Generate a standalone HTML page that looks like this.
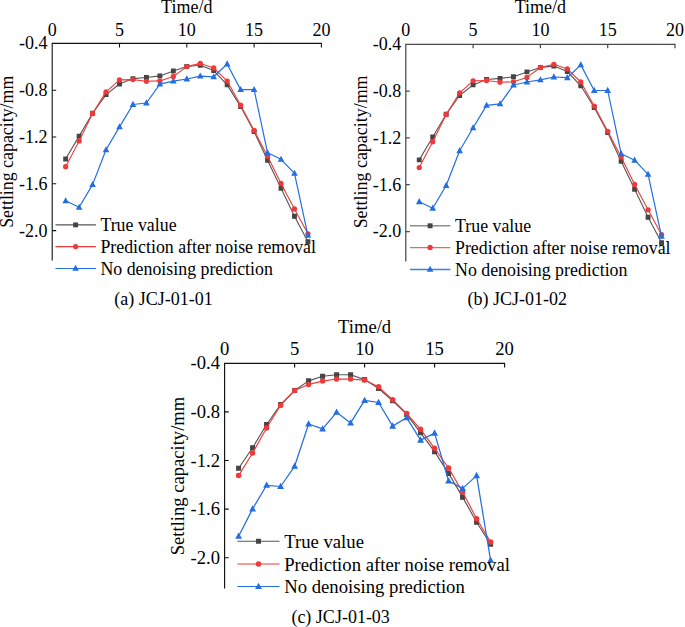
<!DOCTYPE html>
<html><head><meta charset="utf-8"><style>
html,body{margin:0;padding:0;background:#fff;}
svg{display:block;}
text{font-family:"Liberation Serif", serif;fill:#000;}
</style></head><body>
<svg width="685" height="627" viewBox="0 0 685 627">
<rect width="685" height="627" fill="#fff"/>
<g font-size="18">
<path d="M52.2 260.6V43.4H321.4v4" fill="none" stroke="#111" stroke-width="1.1"/>
<path d="M119.5 43.4v4M186.8 43.4v4M254.1 43.4v4M52.2 90.2h4M52.2 137h4M52.2 183.8h4M52.2 230.6h4" fill="none" stroke="#111" stroke-width="1.1"/>
<text x="52.2" y="35.9" text-anchor="middle">0</text>
<text x="119.5" y="35.9" text-anchor="middle">5</text>
<text x="186.8" y="35.9" text-anchor="middle">10</text>
<text x="254.1" y="35.9" text-anchor="middle">15</text>
<text x="321.4" y="35.9" text-anchor="middle">20</text>
<text x="47.6" y="49.35" text-anchor="end">-0.4</text>
<text x="47.6" y="96.15" text-anchor="end">-0.8</text>
<text x="47.6" y="142.95" text-anchor="end">-1.2</text>
<text x="47.6" y="189.75" text-anchor="end">-1.6</text>
<text x="47.6" y="236.55" text-anchor="end">-2.0</text>
<text x="186.8" y="13.4" text-anchor="middle">Time/d</text>
<text transform="translate(12.9 151.8) rotate(-90)" text-anchor="middle" font-size="17.85">Settling capacity/mm</text>
<polyline points="65.66,159 79.12,136.1 92.58,113.3 106.04,94.6 119.5,84 132.96,78.6 146.42,77.5 159.88,75.9 173.34,71 186.8,66.5 200.26,65.2 213.72,70.6 227.18,84.9 240.64,106.6 254.1,131.6 267.56,160.3 281.02,188.3 294.48,216.3 307.94,241.7" fill="none" stroke="#555555" stroke-width="1.1" stroke-linejoin="round"/>
<path d="M63.21 156.55h4.9v4.9h-4.9zM76.67 133.65h4.9v4.9h-4.9zM90.13 110.85h4.9v4.9h-4.9zM103.59 92.15h4.9v4.9h-4.9zM117.05 81.55h4.9v4.9h-4.9zM130.51 76.15h4.9v4.9h-4.9zM143.97 75.05h4.9v4.9h-4.9zM157.43 73.45h4.9v4.9h-4.9zM170.89 68.55h4.9v4.9h-4.9zM184.35 64.05h4.9v4.9h-4.9zM197.81 62.75h4.9v4.9h-4.9zM211.27 68.15h4.9v4.9h-4.9zM224.73 82.45h4.9v4.9h-4.9zM238.19 104.15h4.9v4.9h-4.9zM251.65 129.15h4.9v4.9h-4.9zM265.11 157.85h4.9v4.9h-4.9zM278.57 185.85h4.9v4.9h-4.9zM292.03 213.85h4.9v4.9h-4.9zM305.49 239.25h4.9v4.9h-4.9z" fill="#454545"/>
<polyline points="65.66,166.7 79.12,140.9 92.58,113.6 106.04,91.9 119.5,79.9 132.96,79.6 146.42,81.3 159.88,80.9 173.34,76.5 186.8,66.6 200.26,63.4 213.72,68 227.18,81.1 240.64,105.2 254.1,130.4 267.56,156.2 281.02,183.5 294.48,208.9 307.94,233.8" fill="none" stroke="#EE3A3A" stroke-width="1.1" stroke-linejoin="round"/>
<path d="M63.01 166.7a2.65 2.65 0 1 0 5.3 0a2.65 2.65 0 1 0 -5.3 0zM76.47 140.9a2.65 2.65 0 1 0 5.3 0a2.65 2.65 0 1 0 -5.3 0zM89.93 113.6a2.65 2.65 0 1 0 5.3 0a2.65 2.65 0 1 0 -5.3 0zM103.39 91.9a2.65 2.65 0 1 0 5.3 0a2.65 2.65 0 1 0 -5.3 0zM116.85 79.9a2.65 2.65 0 1 0 5.3 0a2.65 2.65 0 1 0 -5.3 0zM130.31 79.6a2.65 2.65 0 1 0 5.3 0a2.65 2.65 0 1 0 -5.3 0zM143.77 81.3a2.65 2.65 0 1 0 5.3 0a2.65 2.65 0 1 0 -5.3 0zM157.23 80.9a2.65 2.65 0 1 0 5.3 0a2.65 2.65 0 1 0 -5.3 0zM170.69 76.5a2.65 2.65 0 1 0 5.3 0a2.65 2.65 0 1 0 -5.3 0zM184.15 66.6a2.65 2.65 0 1 0 5.3 0a2.65 2.65 0 1 0 -5.3 0zM197.61 63.4a2.65 2.65 0 1 0 5.3 0a2.65 2.65 0 1 0 -5.3 0zM211.07 68a2.65 2.65 0 1 0 5.3 0a2.65 2.65 0 1 0 -5.3 0zM224.53 81.1a2.65 2.65 0 1 0 5.3 0a2.65 2.65 0 1 0 -5.3 0zM237.99 105.2a2.65 2.65 0 1 0 5.3 0a2.65 2.65 0 1 0 -5.3 0zM251.45 130.4a2.65 2.65 0 1 0 5.3 0a2.65 2.65 0 1 0 -5.3 0zM264.91 156.2a2.65 2.65 0 1 0 5.3 0a2.65 2.65 0 1 0 -5.3 0zM278.37 183.5a2.65 2.65 0 1 0 5.3 0a2.65 2.65 0 1 0 -5.3 0zM291.83 208.9a2.65 2.65 0 1 0 5.3 0a2.65 2.65 0 1 0 -5.3 0zM305.29 233.8a2.65 2.65 0 1 0 5.3 0a2.65 2.65 0 1 0 -5.3 0z" fill="#EE3A3A"/>
<polyline points="65.66,200.8 79.12,207.3 92.58,184.6 106.04,149.8 119.5,126.9 132.96,104.5 146.42,103 159.88,84.1 173.34,81.1 186.8,79 200.26,76.1 213.72,76.8 227.18,64 240.64,89.6 254.1,89.6 267.56,152.8 281.02,159.3 294.48,173.4 307.94,235.4" fill="none" stroke="#236EE0" stroke-width="1.2" stroke-linejoin="round"/>
<path d="M65.66 197.16L68.96 203.24H62.36zM79.12 203.66L82.42 209.74H75.82zM92.58 180.96L95.88 187.04H89.28zM106.04 146.16L109.34 152.24H102.74zM119.5 123.26L122.8 129.34H116.2zM132.96 100.86L136.26 106.94H129.66zM146.42 99.36L149.72 105.44H143.12zM159.88 80.46L163.18 86.54H156.58zM173.34 77.46L176.64 83.54H170.04zM186.8 75.36L190.1 81.44H183.5zM200.26 72.46L203.56 78.54H196.96zM213.72 73.16L217.02 79.24H210.42zM227.18 60.36L230.48 66.44H223.88zM240.64 85.96L243.94 92.04H237.34zM254.1 85.96L257.4 92.04H250.8zM267.56 149.16L270.86 155.24H264.26zM281.02 155.66L284.32 161.74H277.72zM294.48 169.76L297.78 175.84H291.18zM307.94 231.76L311.24 237.84H304.64z" fill="#236EE0"/>
<path d="M55.5 224.9H95.9" stroke="#555555" stroke-width="1.1"/>
<path d="M73.15 222.45h4.9v4.9h-4.9z" fill="#454545"/>
<text x="100.4" y="230.8" font-size="17.85">True value</text>
<path d="M55.5 246.6H95.9" stroke="#EE3A3A" stroke-width="1.1"/>
<path d="M72.95 246.6a2.65 2.65 0 1 0 5.3 0a2.65 2.65 0 1 0 -5.3 0z" fill="#EE3A3A"/>
<text x="100.4" y="253" font-size="17.85">Prediction after noise removal</text>
<path d="M55.5 268.5H95.9" stroke="#236EE0" stroke-width="1.2"/>
<path d="M75.6 264.76L78.9 270.84H72.3z" fill="#236EE0"/>
<text x="100.4" y="274.6" font-size="17.85">No denoising prediction</text>
</g>
<g font-size="18">
<path d="M405.8 261.5V44.3H675v4" fill="none" stroke="#4a4a4a" stroke-width="1.25"/>
<path d="M473.1 44.3v4M540.4 44.3v4M607.7 44.3v4M405.8 91.1h4M405.8 137.9h4M405.8 184.7h4M405.8 231.5h4" fill="none" stroke="#4a4a4a" stroke-width="1.25"/>
<text x="405.8" y="36" text-anchor="middle">0</text>
<text x="473.1" y="36" text-anchor="middle">5</text>
<text x="540.4" y="36" text-anchor="middle">10</text>
<text x="607.7" y="36" text-anchor="middle">15</text>
<text x="675" y="36" text-anchor="middle">20</text>
<text x="401.2" y="50.25" text-anchor="end">-0.4</text>
<text x="401.2" y="97.05" text-anchor="end">-0.8</text>
<text x="401.2" y="143.85" text-anchor="end">-1.2</text>
<text x="401.2" y="190.65" text-anchor="end">-1.6</text>
<text x="401.2" y="237.45" text-anchor="end">-2.0</text>
<text x="540.4" y="12.9" text-anchor="middle">Time/d</text>
<text transform="translate(366.5 151.9) rotate(-90)" text-anchor="middle" font-size="17.95">Settling capacity/mm</text>
<polyline points="419.26,159.9 432.72,137 446.18,114.2 459.64,95.5 473.1,84.9 486.56,79.5 500.02,78.4 513.48,76.8 526.94,71.9 540.4,67.4 553.86,66.1 567.32,71.5 580.78,85.8 594.24,107.5 607.7,132.5 621.16,161.2 634.62,189.2 648.08,217.2 661.54,242.6" fill="none" stroke="#555555" stroke-width="1.1" stroke-linejoin="round"/>
<path d="M416.81 157.45h4.9v4.9h-4.9zM430.27 134.55h4.9v4.9h-4.9zM443.73 111.75h4.9v4.9h-4.9zM457.19 93.05h4.9v4.9h-4.9zM470.65 82.45h4.9v4.9h-4.9zM484.11 77.05h4.9v4.9h-4.9zM497.57 75.95h4.9v4.9h-4.9zM511.03 74.35h4.9v4.9h-4.9zM524.49 69.45h4.9v4.9h-4.9zM537.95 64.95h4.9v4.9h-4.9zM551.41 63.65h4.9v4.9h-4.9zM564.87 69.05h4.9v4.9h-4.9zM578.33 83.35h4.9v4.9h-4.9zM591.79 105.05h4.9v4.9h-4.9zM605.25 130.05h4.9v4.9h-4.9zM618.71 158.75h4.9v4.9h-4.9zM632.17 186.75h4.9v4.9h-4.9zM645.63 214.75h4.9v4.9h-4.9zM659.09 240.15h4.9v4.9h-4.9z" fill="#454545"/>
<polyline points="419.26,167.6 432.72,141.8 446.18,114.5 459.64,92.8 473.1,80.8 486.56,80.5 500.02,82.2 513.48,81.8 526.94,77.4 540.4,67.5 553.86,64.3 567.32,68.9 580.78,82 594.24,106.1 607.7,131.3 621.16,157.1 634.62,184.4 648.08,209.8 661.54,234.7" fill="none" stroke="#EE3A3A" stroke-width="1.1" stroke-linejoin="round"/>
<path d="M416.61 167.6a2.65 2.65 0 1 0 5.3 0a2.65 2.65 0 1 0 -5.3 0zM430.07 141.8a2.65 2.65 0 1 0 5.3 0a2.65 2.65 0 1 0 -5.3 0zM443.53 114.5a2.65 2.65 0 1 0 5.3 0a2.65 2.65 0 1 0 -5.3 0zM456.99 92.8a2.65 2.65 0 1 0 5.3 0a2.65 2.65 0 1 0 -5.3 0zM470.45 80.8a2.65 2.65 0 1 0 5.3 0a2.65 2.65 0 1 0 -5.3 0zM483.91 80.5a2.65 2.65 0 1 0 5.3 0a2.65 2.65 0 1 0 -5.3 0zM497.37 82.2a2.65 2.65 0 1 0 5.3 0a2.65 2.65 0 1 0 -5.3 0zM510.83 81.8a2.65 2.65 0 1 0 5.3 0a2.65 2.65 0 1 0 -5.3 0zM524.29 77.4a2.65 2.65 0 1 0 5.3 0a2.65 2.65 0 1 0 -5.3 0zM537.75 67.5a2.65 2.65 0 1 0 5.3 0a2.65 2.65 0 1 0 -5.3 0zM551.21 64.3a2.65 2.65 0 1 0 5.3 0a2.65 2.65 0 1 0 -5.3 0zM564.67 68.9a2.65 2.65 0 1 0 5.3 0a2.65 2.65 0 1 0 -5.3 0zM578.13 82a2.65 2.65 0 1 0 5.3 0a2.65 2.65 0 1 0 -5.3 0zM591.59 106.1a2.65 2.65 0 1 0 5.3 0a2.65 2.65 0 1 0 -5.3 0zM605.05 131.3a2.65 2.65 0 1 0 5.3 0a2.65 2.65 0 1 0 -5.3 0zM618.51 157.1a2.65 2.65 0 1 0 5.3 0a2.65 2.65 0 1 0 -5.3 0zM631.97 184.4a2.65 2.65 0 1 0 5.3 0a2.65 2.65 0 1 0 -5.3 0zM645.43 209.8a2.65 2.65 0 1 0 5.3 0a2.65 2.65 0 1 0 -5.3 0zM658.89 234.7a2.65 2.65 0 1 0 5.3 0a2.65 2.65 0 1 0 -5.3 0z" fill="#EE3A3A"/>
<polyline points="419.26,201.7 432.72,208.2 446.18,185.5 459.64,150.7 473.1,127.8 486.56,105.4 500.02,103.9 513.48,85 526.94,82 540.4,79.9 553.86,77 567.32,77.7 580.78,64.9 594.24,90.5 607.7,90.5 621.16,153.7 634.62,160.2 648.08,174.3 661.54,236.3" fill="none" stroke="#236EE0" stroke-width="1.2" stroke-linejoin="round"/>
<path d="M419.26 198.06L422.56 204.14H415.96zM432.72 204.56L436.02 210.64H429.42zM446.18 181.86L449.48 187.94H442.88zM459.64 147.06L462.94 153.14H456.34zM473.1 124.16L476.4 130.24H469.8zM486.56 101.76L489.86 107.84H483.26zM500.02 100.26L503.32 106.34H496.72zM513.48 81.36L516.78 87.44H510.18zM526.94 78.36L530.24 84.44H523.64zM540.4 76.26L543.7 82.34H537.1zM553.86 73.36L557.16 79.44H550.56zM567.32 74.06L570.62 80.14H564.02zM580.78 61.26L584.08 67.34H577.48zM594.24 86.86L597.54 92.94H590.94zM607.7 86.86L611 92.94H604.4zM621.16 150.06L624.46 156.14H617.86zM634.62 156.56L637.92 162.64H631.32zM648.08 170.66L651.38 176.74H644.78zM661.54 232.66L664.84 238.74H658.24z" fill="#236EE0"/>
<path d="M410 225.8H450.4" stroke="#8e8e8e" stroke-width="1.4"/>
<path d="M427.65 223.35h4.9v4.9h-4.9z" fill="#454545"/>
<text x="455" y="232" font-size="17.85">True value</text>
<path d="M410 247.5H450.4" stroke="#F06464" stroke-width="1.25"/>
<path d="M427.45 247.5a2.65 2.65 0 1 0 5.3 0a2.65 2.65 0 1 0 -5.3 0z" fill="#EE3A3A"/>
<text x="455" y="254.2" font-size="17.85">Prediction after noise removal</text>
<path d="M410 269.5H450.4" stroke="#3A82E8" stroke-width="1.3"/>
<path d="M430.1 265.76L433.4 271.84H426.8z" fill="#236EE0"/>
<text x="455" y="275.8" font-size="17.85">No denoising prediction</text>
</g>
<g font-size="18.6">
<path d="M224.6 588.6V363.3H504.6v4.14" fill="none" stroke="#111" stroke-width="1.15"/>
<path d="M294.6 363.3v4.14M364.6 363.3v4.14M434.6 363.3v4.14M224.6 411.9h4.14M224.6 460.5h4.14M224.6 509.1h4.14M224.6 557.7h4.14" fill="none" stroke="#111" stroke-width="1.15"/>
<text x="224.6" y="354.7" text-anchor="middle">0</text>
<text x="294.6" y="354.7" text-anchor="middle">5</text>
<text x="364.6" y="354.7" text-anchor="middle">10</text>
<text x="434.6" y="354.7" text-anchor="middle">15</text>
<text x="504.6" y="354.7" text-anchor="middle">20</text>
<text x="220" y="369.45" text-anchor="end">-0.4</text>
<text x="220" y="418.05" text-anchor="end">-0.8</text>
<text x="220" y="466.65" text-anchor="end">-1.2</text>
<text x="220" y="515.25" text-anchor="end">-1.6</text>
<text x="220" y="563.85" text-anchor="end">-2.0</text>
<text x="364.6" y="333" text-anchor="middle">Time/d</text>
<text transform="translate(184.2 476) rotate(-90)" text-anchor="middle" font-size="18.6">Settling capacity/mm</text>
<polyline points="238.6,468.3 252.6,447.8 266.6,424.5 280.6,404.6 294.6,390.5 308.6,380.9 322.6,376.3 336.6,374.8 350.6,374.8 364.6,379.6 378.6,388.5 392.6,400.8 406.6,414.2 420.6,432.8 434.6,451.6 448.6,473.4 462.6,497.1 476.6,522.2 490.6,544.2" fill="none" stroke="#555555" stroke-width="1.14" stroke-linejoin="round"/>
<path d="M236.06 465.76h5.07v5.07h-5.07zM250.06 445.26h5.07v5.07h-5.07zM264.06 421.96h5.07v5.07h-5.07zM278.06 402.06h5.07v5.07h-5.07zM292.06 387.96h5.07v5.07h-5.07zM306.06 378.36h5.07v5.07h-5.07zM320.06 373.76h5.07v5.07h-5.07zM334.06 372.26h5.07v5.07h-5.07zM348.06 372.26h5.07v5.07h-5.07zM362.06 377.06h5.07v5.07h-5.07zM376.06 385.96h5.07v5.07h-5.07zM390.06 398.26h5.07v5.07h-5.07zM404.06 411.66h5.07v5.07h-5.07zM418.06 430.26h5.07v5.07h-5.07zM432.06 449.06h5.07v5.07h-5.07zM446.06 470.86h5.07v5.07h-5.07zM460.06 494.56h5.07v5.07h-5.07zM474.06 519.66h5.07v5.07h-5.07zM488.06 541.66h5.07v5.07h-5.07z" fill="#454545"/>
<polyline points="238.6,475.6 252.6,453 266.6,428 280.6,405.3 294.6,390.4 308.6,384.4 322.6,381.1 336.6,379 350.6,379.1 364.6,380.1 378.6,386.8 392.6,399.7 406.6,413.5 420.6,429.3 434.6,448.3 448.6,468 462.6,492.1 476.6,518.7 490.6,542.1" fill="none" stroke="#EE3A3A" stroke-width="1.14" stroke-linejoin="round"/>
<path d="M235.86 475.6a2.74 2.74 0 1 0 5.49 0a2.74 2.74 0 1 0 -5.49 0zM249.86 453a2.74 2.74 0 1 0 5.49 0a2.74 2.74 0 1 0 -5.49 0zM263.86 428a2.74 2.74 0 1 0 5.49 0a2.74 2.74 0 1 0 -5.49 0zM277.86 405.3a2.74 2.74 0 1 0 5.49 0a2.74 2.74 0 1 0 -5.49 0zM291.86 390.4a2.74 2.74 0 1 0 5.49 0a2.74 2.74 0 1 0 -5.49 0zM305.86 384.4a2.74 2.74 0 1 0 5.49 0a2.74 2.74 0 1 0 -5.49 0zM319.86 381.1a2.74 2.74 0 1 0 5.49 0a2.74 2.74 0 1 0 -5.49 0zM333.86 379a2.74 2.74 0 1 0 5.49 0a2.74 2.74 0 1 0 -5.49 0zM347.86 379.1a2.74 2.74 0 1 0 5.49 0a2.74 2.74 0 1 0 -5.49 0zM361.86 380.1a2.74 2.74 0 1 0 5.49 0a2.74 2.74 0 1 0 -5.49 0zM375.86 386.8a2.74 2.74 0 1 0 5.49 0a2.74 2.74 0 1 0 -5.49 0zM389.86 399.7a2.74 2.74 0 1 0 5.49 0a2.74 2.74 0 1 0 -5.49 0zM403.86 413.5a2.74 2.74 0 1 0 5.49 0a2.74 2.74 0 1 0 -5.49 0zM417.86 429.3a2.74 2.74 0 1 0 5.49 0a2.74 2.74 0 1 0 -5.49 0zM431.86 448.3a2.74 2.74 0 1 0 5.49 0a2.74 2.74 0 1 0 -5.49 0zM445.86 468a2.74 2.74 0 1 0 5.49 0a2.74 2.74 0 1 0 -5.49 0zM459.86 492.1a2.74 2.74 0 1 0 5.49 0a2.74 2.74 0 1 0 -5.49 0zM473.86 518.7a2.74 2.74 0 1 0 5.49 0a2.74 2.74 0 1 0 -5.49 0zM487.86 542.1a2.74 2.74 0 1 0 5.49 0a2.74 2.74 0 1 0 -5.49 0z" fill="#EE3A3A"/>
<polyline points="238.6,536.2 252.6,508.9 266.6,485.3 280.6,486.5 294.6,466.3 308.6,424 322.6,428.9 336.6,412.3 350.6,422.9 364.6,400.4 378.6,402.5 392.6,426.1 406.6,417.7 420.6,440.1 434.6,433.1 448.6,481 462.6,488.4 476.6,475.6 490.6,560.3" fill="none" stroke="#236EE0" stroke-width="1.24" stroke-linejoin="round"/>
<path d="M238.6 532.46L242.02 538.74H235.18zM252.6 505.16L256.02 511.44H249.18zM266.6 481.56L270.02 487.84H263.18zM280.6 482.76L284.02 489.04H277.18zM294.6 462.56L298.02 468.84H291.18zM308.6 420.26L312.02 426.54H305.18zM322.6 425.16L326.02 431.44H319.18zM336.6 408.56L340.02 414.84H333.18zM350.6 419.16L354.02 425.44H347.18zM364.6 396.66L368.02 402.94H361.18zM378.6 398.76L382.02 405.04H375.18zM392.6 422.36L396.02 428.64H389.18zM406.6 413.96L410.02 420.24H403.18zM420.6 436.36L424.02 442.64H417.18zM434.6 429.36L438.02 435.64H431.18zM448.6 477.26L452.02 483.54H445.18zM462.6 484.66L466.02 490.94H459.18zM476.6 471.86L480.02 478.14H473.18zM490.6 556.56L494.02 562.84H487.18z" fill="#236EE0"/>
<path d="M237.4 541.3H279.5" stroke="#555555" stroke-width="1.14"/>
<path d="M255.96 538.76h5.07v5.07h-5.07z" fill="#454545"/>
<text x="284.2" y="548.2" font-size="18.7">True value</text>
<path d="M237.4 564H279.5" stroke="#EE3A3A" stroke-width="1.14"/>
<path d="M255.76 564a2.74 2.74 0 1 0 5.49 0a2.74 2.74 0 1 0 -5.49 0z" fill="#EE3A3A"/>
<text x="284.2" y="570.8" font-size="18.7">Prediction after noise removal</text>
<path d="M237.4 586.5H279.5" stroke="#236EE0" stroke-width="1.24"/>
<path d="M258.5 582.66L261.92 588.94H255.08z" fill="#236EE0"/>
<text x="284.2" y="593.4" font-size="18.7">No denoising prediction</text>
</g>
<text x="114.3" y="304.8" font-size="18">(a) JCJ-01-01</text>
<text x="467.6" y="304.8" font-size="18">(b) JCJ-01-02</text>
<text x="291.4" y="622.9" font-size="18">(c) JCJ-01-03</text>
</svg>
</body></html>
